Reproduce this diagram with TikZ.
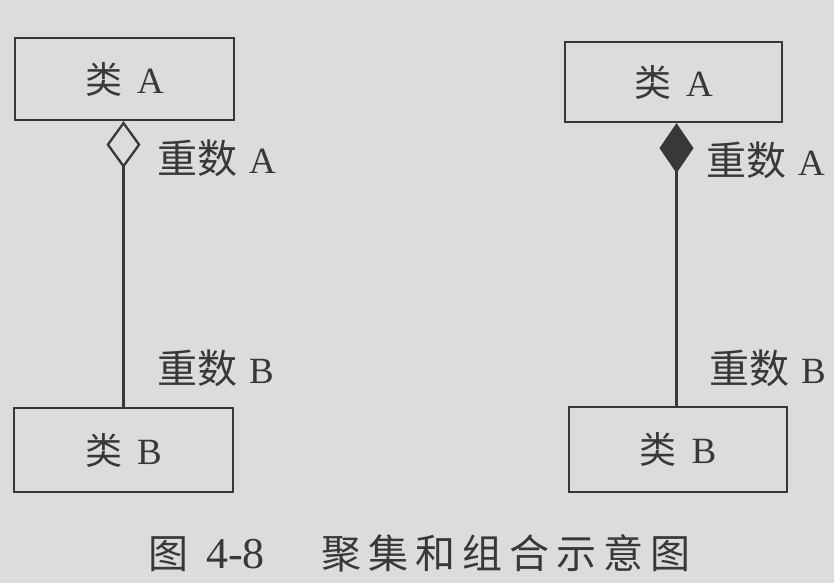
\documentclass[tikz,border=0pt]{standalone}
\usepackage{fontspec}
\setmainfont{Liberation Serif}
\newfontfamily\cjk{Noto Sans CJK SC}
\usetikzlibrary{arrows.meta}
\definecolor{paper}{HTML}{DCDCDA}
\definecolor{ink}{HTML}{383838}
\newcommand{\mult}[1]{{\cjk\fontsize{40}{42}\selectfont 重数}\hspace{12pt}#1}
\begin{document}
\begin{tikzpicture}[x=1pt,y=-1pt,
  classbox/.style={draw=ink,line width=2.3pt,rectangle,inner sep=0pt,text=ink,font=\fontsize{37}{40}\selectfont},
  lbl/.style={anchor=west,inner sep=0pt,text=ink,font=\fontsize{37}{40}\selectfont},
  link/.style={draw=ink,line width=2.3pt},
  aggr/.style={-{Diamond[open,length=47pt,width=34pt,line width=2.3pt]}},
  comp/.style={-{Diamond[fill=ink,length=50pt,width=34pt,line width=2.3pt]}}]
\fill[paper] (0,0) rectangle (834,583);
\useasboundingbox (0,0) rectangle (834,583);
% left: aggregation
\node[classbox,minimum width=219pt,minimum height=82pt] (A1) at (124.5,79) {{\cjk 类}\hspace{15pt}A};
\node[classbox,minimum width=219pt,minimum height=84pt] (B1) at (123.5,450) {{\cjk 类}\hspace{15pt}B};
\draw[link,aggr] (B1.north) -- (B1.north |- A1.south);
\node[lbl] (mA1) at (157,158) {\mult{A}};
\node[lbl] (mB1) at (157,368) {\mult{B}};
% right: composition
\node[classbox,minimum width=217pt,minimum height=80pt] (A2) at (673.5,82) {{\cjk 类}\hspace{15pt}A};
\node[classbox,minimum width=218pt,minimum height=85pt] (B2) at (678,449.5) {{\cjk 类}\hspace{15pt}B};
\coordinate (topR) at (676.5,0);
\draw[link,comp] (B2.north -| topR) -- (topR |- A2.south);
\node[lbl] (mA2) at (706,160) {\mult{A}};
\node[lbl] (mB2) at (709,368) {\mult{B}};
% caption
\node[lbl,font=\fontsize{40}{44}\selectfont] (cap) at (148,553)
  {{\cjk 图}\hspace{18pt}{\fontsize{44}{46}\selectfont 4-8}\hspace{57pt}{\cjk 聚\hspace{7pt}集\hspace{7pt}和\hspace{7pt}组\hspace{7pt}合\hspace{7pt}示\hspace{7pt}意\hspace{7pt}图}};
\end{tikzpicture}
\end{document}
